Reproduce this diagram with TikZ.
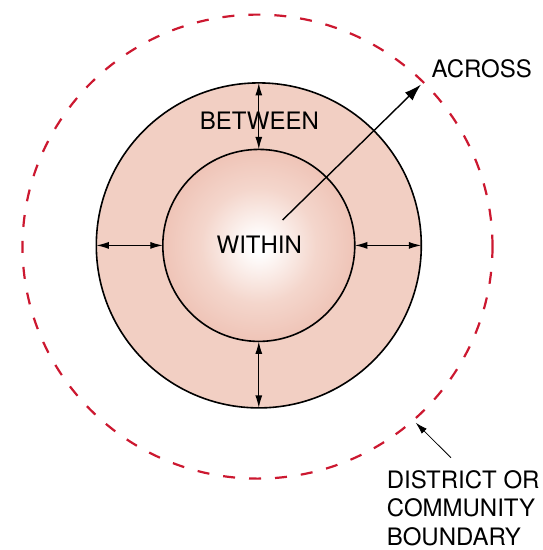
\documentclass[tikz,border=0pt]{standalone}
\usepackage{fontspec}
\setmainfont{TeX Gyre Heros}
\usetikzlibrary{arrows.meta,shapes.geometric}
\definecolor{ringfill}{RGB}{242,207,195}
\definecolor{balledge}{RGB}{226,155,138}
\definecolor{ballmid}{RGB}{234,178,162}
\definecolor{ballin}{RGB}{244,214,204}
\definecolor{bndred}{RGB}{204,24,48}
\pgfdeclareradialshading{ballshade}{\pgfpoint{0bp}{0bp}}{color(0bp)=(white);color(2bp)=(white);color(15bp)=(ballin);color(35bp)=(ballmid);color(50bp)=(balledge)}
\begin{document}
\begin{tikzpicture}[x=1pt,y=-1pt,
  lbl/.style={font=\fontsize{24}{28.5}\selectfont, inner sep=0pt},
  dbl/.style={{Latex[length=12.5pt,width=7pt]}-{Latex[length=12.5pt,width=7pt]}, line width=1.2pt},
  across/.style={-{Latex[length=17pt,width=11pt]}, line width=1.4pt},
  pointer/.style={-{Latex[length=12pt,width=7pt]}, line width=0.8pt},
  ringc/.style={circle, draw, line width=1.6pt, inner sep=0pt, outer sep=0pt}]
\useasboundingbox (0,0) rectangle (543,550);
\node[ellipse, draw=bndred, line width=2.2pt, dash pattern=on 12pt off 14pt,
      minimum width=470pt, minimum height=464pt, inner sep=0pt, outer sep=0pt] (bnd) at (257.5,246.6) {};
\node[ringc, fill=ringfill, minimum size=325pt] (mid) at (258.8,245.4) {};
\node[ringc, shading=ballshade, minimum size=192pt] (inn) at (258.8,245.4) {};
\node[lbl, anchor=base] (btw) at (259.4,129.8) {BETWEEN};
\node[lbl, anchor=base] (wth) at (259.3,253) {WITHIN};
\node[lbl, anchor=base west] (acr) at (431.5,77.3) {ACROSS};
\node[lbl, anchor=base west, align=left] (dis) at (386.7,545) {DISTRICT OR\\COMMUNITY\\BOUNDARY};
\draw[dbl] (mid.north) -- (inn.north);
\draw[dbl] (mid.south) -- (inn.south);
\draw[dbl] (mid.west) -- (inn.west);
\draw[dbl] (mid.east) -- (inn.east);
\coordinate (acs) at (282.6,220);
\coordinate (act) at (421,84.5);
\draw[across] (acs) -- (act);
\coordinate (bs) at (451,457.7);
\coordinate (bt) at (415.7,422.7);
\draw[pointer] (bs) -- (bt);
\end{tikzpicture}
\end{document}
